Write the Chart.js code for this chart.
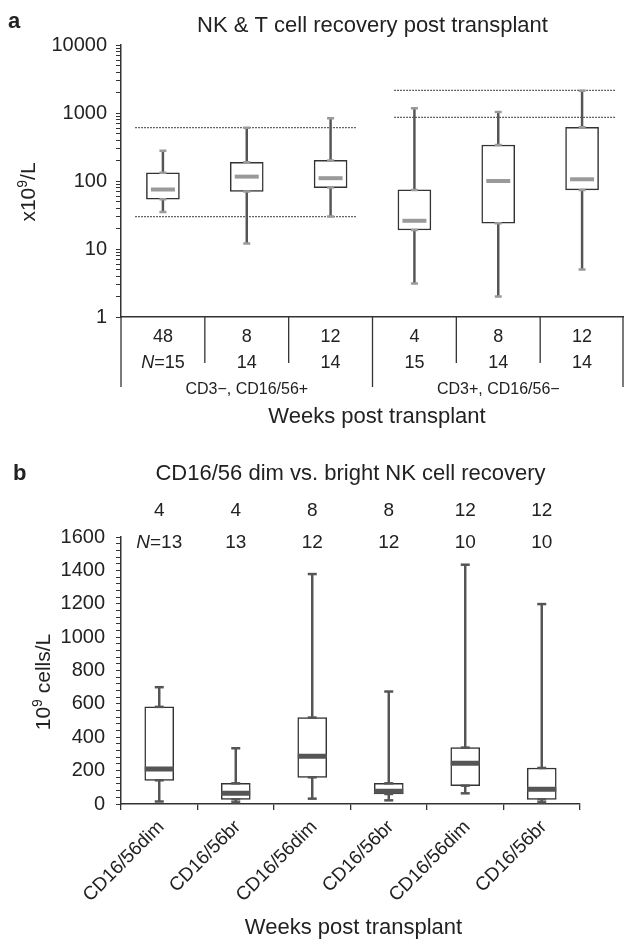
<!DOCTYPE html>
<html lang="en">
<head>
<meta charset="UTF-8">
<title>NK and T cell recovery</title>
<script src="https://cdn.jsdelivr.net/npm/chart.js"></script>
<style>
  body { margin: 0; background: #fff; }
  canvas { display: block; }
</style>
</head>
<body>
<canvas id="chartA" width="624" height="450"></canvas>
<canvas id="chartB" width="624" height="490"></canvas>

<script>
// ---- panel a: NK & T cell counts (log scale) ----
const titleA = 'NK & T cell recovery post transplant';
const weeksA = ['48', '8', '12', '4', '8', '12'];
const nA = [15, 14, 14, 15, 14, 14];
const groupsA = ['CD3\u2212, CD16/56+', 'CD3+, CD16/56\u2212'];
const minA = [35, 12, 30, 3.1, 2.0, 5.0];
const q1A = [54, 70, 80, 19, 24, 74];
const medA = [75, 116, 110, 26, 100, 106];
const q3A = [132, 188, 201, 74, 338, 616];
const maxA = [279, 608, 836, 1172, 1035, 2130];
// normal ranges, dotted lines (one pair per group)
const refLowA = [30, 864];
const refHighA = [608, 2150];
const refFromA = [-0.33, 2.76];
const refToA = [2.31, 5.39];
const logLabelsA = [1, 10, 100, 1000, 10000];

// ---- panel b: CD16/56 dim vs bright ----
const titleB = 'CD16/56 dim vs. bright NK cell recovery';
const labelsB = ['CD16/56dim', 'CD16/56br', 'CD16/56dim', 'CD16/56br', 'CD16/56dim', 'CD16/56br'];
const weeksB = ['4', '4', '8', '8', '12', '12'];
const nB = [13, 13, 12, 12, 10, 10];
const minB = [15, 10, 32, 22, 64, 10];
const q1B = [142, 28, 160, 60, 110, 28];
const medB = [210, 64, 286, 76, 244, 88];
const q3B = [582, 124, 518, 124, 338, 216];
const maxB = [700, 334, 1378, 674, 1434, 1198];

const FONT = '"Liberation Sans", Arial, sans-serif';
const INK = '#222';

function font(size, style) {
    return (style || '') + ' ' + size + 'px ' + FONT;
}

// text made of several pieces (italic N, superscripts), centred on x
function drawRuns(ctx, runs, x, y) {
    let total = 0;
    runs.forEach(r => {
        ctx.font = font(r.size, r.style);
        r.w = ctx.measureText(r.t).width;
        total += r.w;
    });
    let cx = x - total / 2;
    ctx.textAlign = 'left';
    runs.forEach(r => {
        ctx.font = font(r.size, r.style);
        ctx.fillText(r.t, cx, y - (r.rise || 0));
        cx += r.w;
    });
}

// whisker, box, caps and median for one set of boxes
function boxDatasets(mins, q1s, meds, q3s, maxs, st) {
    const cap = (vals) => ({
        type: 'line', data: vals, showLine: false, pointStyle: 'line',
        pointRadius: st.capLen, pointBorderWidth: st.capWidth,
        pointBorderColor: st.cap, order: 1
    });
    return [
        {
            type: 'bar', data: mins.map((v, i) => [v, maxs[i]]),
            backgroundColor: st.whisker, barThickness: st.whiskerWidth,
            grouped: false, order: 3
        },
        {
            type: 'bar', data: q1s.map((v, i) => [v, q3s[i]]),
            backgroundColor: '#fff', borderColor: st.box, borderWidth: 1.5,
            borderSkipped: false, barThickness: st.width, grouped: false, order: 2
        },
        cap(mins), cap(maxs), cap(q1s), cap(q3s),
        {
            type: 'line', data: meds, showLine: false, pointStyle: 'line',
            pointRadius: st.medLen, pointBorderWidth: st.medWidth,
            pointBorderColor: st.median, order: 0
        }
    ];
}

// ---------- panel a ----------
const refDatasets = refLowA.flatMap((lo, g) => [lo, refHighA[g]].map(v => ({
    type: 'line', xAxisID: 'xr',
    data: [{ x: refFromA[g], y: v }, { x: refToA[g], y: v }],
    borderColor: '#333', borderWidth: 1.2, borderDash: [1.5, 1.5],
    pointRadius: 0, order: 4
})));

const panelA = {
    id: 'panelA',
    afterDraw(chart) {
        const { ctx, chartArea: ca, scales: { x } } = chart;
        ctx.save();
        ctx.fillStyle = INK;
        ctx.strokeStyle = '#333';
        ctx.textBaseline = 'alphabetic';
        ctx.font = font(22, 'bold');
        ctx.textAlign = 'left';
        ctx.fillText('a', 8, 28);
        ctx.font = font(22);
        ctx.textAlign = 'center';
        ctx.fillText(titleA, (ca.left + ca.right) / 2, 32);

        ctx.save();
        ctx.translate(35, 192);
        ctx.rotate(-Math.PI / 2);
        drawRuns(ctx, [{ t: 'x10', size: 21 }, { t: '9', size: 14, rise: 8 }, { t: '/L', size: 21 }], 0, 0);
        ctx.restore();

        ctx.textBaseline = 'middle';
        weeksA.forEach((w, i) => {
            const px = x.getPixelForValue(i);
            ctx.font = font(18);
            ctx.textAlign = 'center';
            ctx.fillText(w, px, 337);
            if (i === 0) {
                drawRuns(ctx, [{ t: 'N', size: 18, style: 'italic' }, { t: '=' + nA[i], size: 18 }], px, 363);
            } else {
                ctx.textAlign = 'center';
                ctx.fillText(String(nA[i]), px, 363);
            }
        });

        // separators under the axis
        ctx.lineWidth = 1.3;
        for (let k = 0; k <= weeksA.length; k++) {
            let sx;
            if (k === 0) sx = ca.left;
            else if (k === weeksA.length) sx = ca.right - 1;
            else sx = (x.getPixelForValue(k - 1) + x.getPixelForValue(k)) / 2;
            ctx.beginPath();
            ctx.moveTo(sx, ca.bottom);
            ctx.lineTo(sx, k % 3 === 0 ? 387 : 363);
            ctx.stroke();
        }

        ctx.textAlign = 'center';
        ctx.font = font(16);
        groupsA.forEach((g, j) => ctx.fillText(g, x.getPixelForValue(j * 3 + 1), 390));
        ctx.font = font(22);
        ctx.fillText('Weeks post transplant', 377, 417);
        ctx.restore();
    }
};

const logTicksA = [];
for (let e = 0; e < 4; e++) {
    for (let m = 1; m < 10; m++) logTicksA.push(m * Math.pow(10, e));
}
logTicksA.push(10000);

new Chart(document.getElementById('chartA'), {
    type: 'bar',
    data: {
        labels: weeksA,
        datasets: boxDatasets(minA, q1A, medA, q3A, maxA, {
            width: 33, box: '#333', whisker: '#555', whiskerWidth: 1.8,
            cap: '#9a9a9a', capLen: 3.5, capWidth: 2.5,
            median: '#9a9a9a', medLen: 12, medWidth: 4
        }).concat(refDatasets)
    },
    options: {
        responsive: false,
        animation: false,
        events: [],
        layout: { autoPadding: false, padding: { left: 0, right: 0, top: 45, bottom: 133 } },
        plugins: { legend: { display: false }, tooltip: { enabled: false } },
        scales: {
            x: {
                type: 'category', offset: true,
                ticks: { display: false },
                grid: { display: false, drawTicks: false },
                border: { display: true, color: '#333', width: 1.5 }
            },
            xr: { type: 'linear', display: false, offset: false, min: -0.5, max: 5.5 },
            y: {
                type: 'logarithmic', min: 1, max: 10000,
                afterFit: s => { s.width = 121; },
                afterBuildTicks: s => { s.ticks = logTicksA.map(v => ({ value: v })); },
                ticks: {
                    autoSkip: false, padding: 9, color: INK,
                    font: { family: FONT, size: 20 },
                    callback: v => logLabelsA.includes(v) ? String(v) : ''
                },
                grid: { drawOnChartArea: false, tickLength: 5, color: '#333' },
                border: { color: '#333', width: 1.5 }
            }
        }
    },
    plugins: [panelA]
});

// ---------- panel b ----------
const panelB = {
    id: 'panelB',
    afterDraw(chart) {
        const { ctx, chartArea: ca, scales: { x } } = chart;
        ctx.save();
        ctx.fillStyle = INK;
        ctx.textBaseline = 'alphabetic';
        ctx.font = font(22, 'bold');
        ctx.textAlign = 'left';
        ctx.fillText('b', 13, 30);
        ctx.font = font(22);
        ctx.textAlign = 'center';
        ctx.textBaseline = 'middle';
        ctx.fillText(titleB, (ca.left + ca.right) / 2, 24);

        weeksB.forEach((w, i) => {
            const px = x.getPixelForValue(i);
            ctx.font = font(19);
            ctx.textAlign = 'center';
            ctx.fillText(w, px, 61);
            if (i === 0) {
                drawRuns(ctx, [{ t: 'N', size: 19, style: 'italic' }, { t: '=' + nB[i], size: 19 }], px, 93);
            } else {
                ctx.textAlign = 'center';
                ctx.fillText(String(nB[i]), px, 93);
            }
        });

        ctx.save();
        ctx.textBaseline = 'alphabetic';
        ctx.translate(50, 232);
        ctx.rotate(-Math.PI / 2);
        drawRuns(ctx, [{ t: '10', size: 21 }, { t: '9', size: 14, rise: 8 }, { t: ' cells/L', size: 21 }], 0, 0);
        ctx.restore();

        ctx.font = font(19);
        labelsB.forEach((l, i) => {
            ctx.save();
            ctx.translate(x.getPixelForValue(i) + 2, 374);
            ctx.rotate(-Math.PI / 4);
            ctx.textAlign = 'right';
            ctx.textBaseline = 'middle';
            ctx.fillText(l, 0, 0);
            ctx.restore();
        });

        ctx.font = font(22);
        ctx.textAlign = 'center';
        ctx.textBaseline = 'middle';
        ctx.fillText('Weeks post transplant', (ca.left + ca.right) / 2 + 3, 478);
        ctx.restore();
    }
};

new Chart(document.getElementById('chartB'), {
    type: 'bar',
    data: {
        labels: labelsB,
        datasets: boxDatasets(minB, q1B, medB, q3B, maxB, {
            width: 29, box: '#333', whisker: '#555', whiskerWidth: 1.8,
            cap: '#555', capLen: 4.5, capWidth: 2.5,
            median: '#555', medLen: 14.5, medWidth: 5
        })
    },
    options: {
        responsive: false,
        animation: false,
        events: [],
        layout: { autoPadding: false, padding: { left: 0, right: 44, top: 87, bottom: 130 } },
        plugins: { legend: { display: false }, tooltip: { enabled: false } },
        scales: {
            x: {
                type: 'category', offset: true,
                ticks: { display: false },
                grid: { offset: true, drawOnChartArea: false, tickLength: 6, color: '#333', lineWidth: 1.3 },
                border: { display: true, color: '#333', width: 1.5 }
            },
            y: {
                min: 0, max: 1600,
                afterFit: s => { s.width = 121; },
                ticks: {
                    stepSize: 40, autoSkip: false, padding: 11, color: INK,
                    font: { family: FONT, size: 20 },
                    callback: v => v % 200 === 0 ? String(v) : ''
                },
                grid: { drawOnChartArea: false, tickLength: 5, color: '#333' },
                border: { color: '#333', width: 1.5 }
            }
        }
    },
    plugins: [panelB]
});
</script>
</body>
</html>
